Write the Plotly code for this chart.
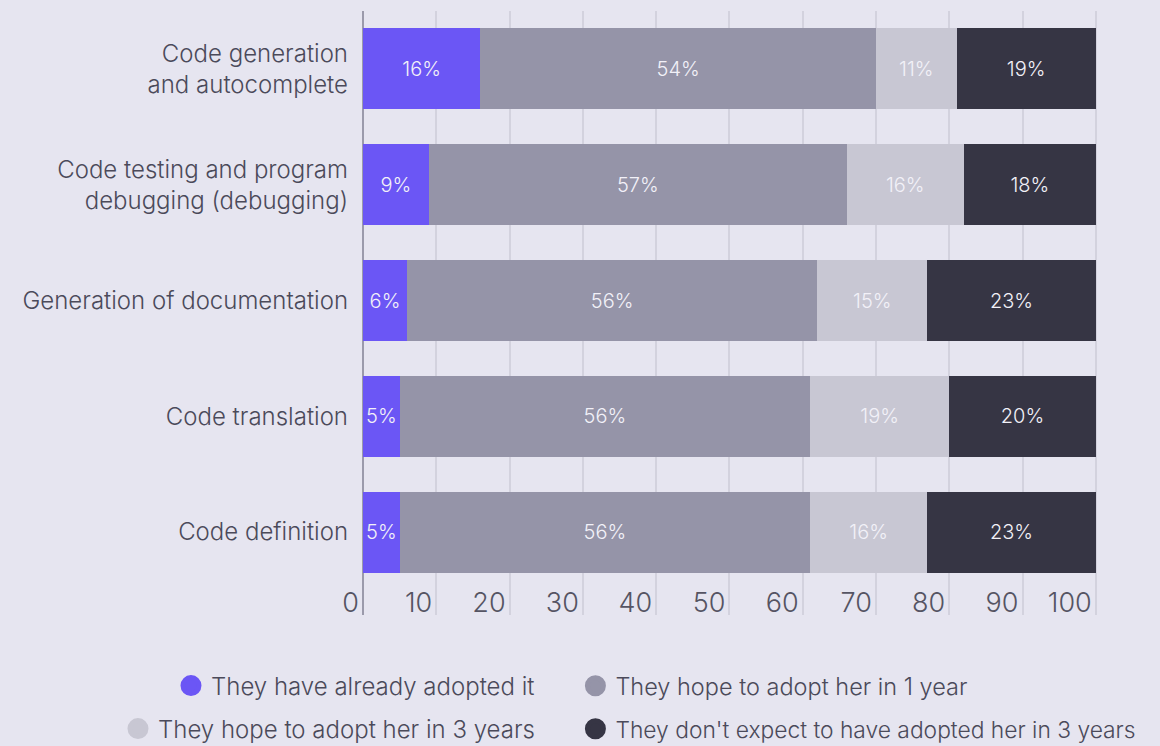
import plotly.graph_objects as go

categories = ["Code generation<br>and autocomplete",
              "Code testing and program<br>debugging (debugging)",
              "Generation of documentation",
              "Code translation",
              "Code definition"]
series_names = ["They have already adopted it",
                "They hope to adopt her in 1 year",
                "They hope to adopt her in 3 years",
                "They don't expect to have adopted her in 3 years"]
adopted = [16, 9, 6, 5, 5]
one_year = [54, 57, 56, 56, 56]
three_years = [11, 16, 15, 19, 16]
not_expect = [19, 18, 23, 20, 23]
tick_vals = [0, 10, 20, 30, 40, 50, 60, 70, 80, 90, 100]

colors = ["#6B56F5", "#9594A8", "#C8C7D3", "#363544"]
series_values = [adopted, one_year, three_years, not_expect]
BG = "#E6E5F0"
TXT = "#4B4A5A"
FONT = "Inter"

fig = go.Figure()
for name, vals, col in zip(series_names, series_values, colors):
    fig.add_trace(go.Bar(
        y=categories, x=vals, orientation="h", name=name,
        marker=dict(color=col, line=dict(width=0)),
        text=[f"{v}%" for v in vals], textposition="inside",
        insidetextanchor="middle", textangle=0,
        textfont=dict(color="#F2F1F8", size=21, family=FONT, weight=300),
        width=0.7, showlegend=False, hoverinfo="skip"))

# legend entries with round markers, one legend per entry for exact placement
leg_pos = [("legend", 0.2408, -0.1175, "right", 24),
           ("legend2", 0.289, -0.1175, "left", 23.5),
           ("legend3", 0.2408, -0.1887, "right", 24),
           ("legend4", 0.289, -0.1887, "left", 22.8)]
for (lg, _, _, _, _), name, col in zip(leg_pos, series_names, colors):
    fig.add_trace(go.Scatter(
        x=[None], y=[None], mode="markers", name=name, legend=lg,
        marker=dict(symbol="circle", size=16, color=col,
                    line=dict(color=col, width=5)),
        showlegend=True))

layout_legends = {}
for lg, x, y, xa, fs in leg_pos:
    layout_legends[lg] = dict(x=x, y=y, xanchor=xa, yanchor="middle",
                              orientation="v", bgcolor="rgba(0,0,0,0)",
                              font=dict(family=FONT, size=fs, color=TXT, weight=300),
                              itemsizing="trace")

fig.update_layout(
    barmode="stack",
    width=1160, height=746,
    paper_bgcolor=BG, plot_bgcolor=BG,
    margin=dict(l=363, r=62, t=11, b=131, autoexpand=False),
    font=dict(family=FONT, color=TXT),
    uniformtext=dict(minsize=20, mode="show"),
    xaxis=dict(range=[0, 100.3], tickvals=tick_vals,
               showgrid=True, gridcolor="#D3D2DE", gridwidth=1.5,
               zeroline=True, zerolinecolor="#9B9AAB", zerolinewidth=2,
               showline=False, ticks="",
               ticklabelposition="inside left", ticklabeloverflow="allow",
               ticklabelstandoff=-8, ticklabelshift=-4,
               tickfont=dict(family=FONT, size=27, color="#555463", weight=300)),
    yaxis=dict(categoryorder="array", categoryarray=categories,
               range=[4.716, -0.5], showgrid=False, zeroline=False,
               ticks="", ticklabelstandoff=14,
               tickfont=dict(family=FONT, size=24, color=TXT, weight=300)),
    **layout_legends,
)

fig.write_html("out.html", config={"displayModeBar": False},
               post_script="document.body.style.margin='0px';document.body.style.background='#E6E5F0';")
